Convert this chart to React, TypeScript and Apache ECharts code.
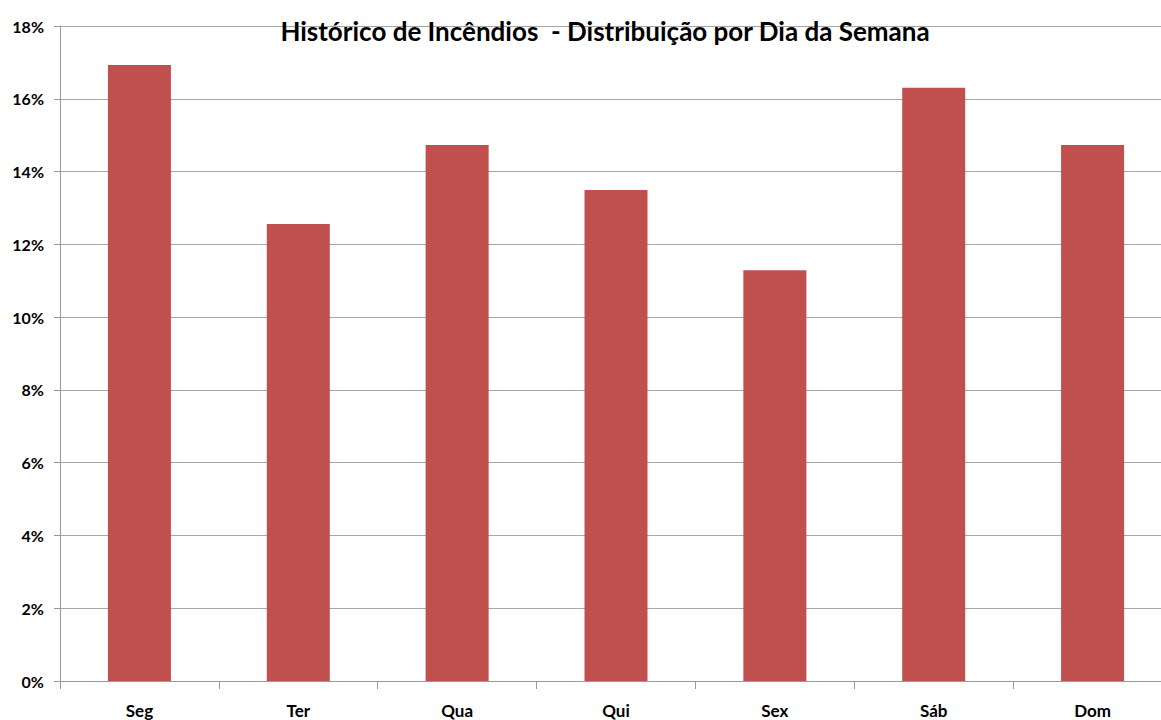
import React, { useEffect, useRef } from "react";
import * as echarts from "echarts";

const categories = ["Seg", "Ter", "Qua", "Qui", "Sex", "Sáb", "Dom"];
const values = [16.93, 12.56, 14.73, 13.49, 11.29, 16.3, 14.73];
const titleText = "Histórico de Incêndios  - Distribuição por Dia da Semana";

export default function App() {
  const ref = useRef<HTMLDivElement>(null);
  useEffect(() => {
    const chart = echarts.init(ref.current!, null, { renderer: "svg" });
    chart.setOption({
      animation: false,
      backgroundColor: "#ffffff",
      title: {
        text: titleText,
        left: 600,
        textAlign: "center",
        top: 13,
        textStyle: { fontFamily: "Lato", fontWeight: "bold", fontSize: 26, color: "#000" },
      },
      grid: { left: 60, right: 0, top: 26, bottom: 39, containLabel: false },
      xAxis: {
        type: "category",
        data: categories,
        boundaryGap: true,
        axisLine: { lineStyle: { color: "#999", width: 1 } },
        axisTick: { show: true, length: 8, lineStyle: { color: "#999" } },
        axisLabel: { fontFamily: "Lato", fontWeight: "bold", fontSize: 17, color: "#000", margin: 21 },
      },
      yAxis: {
        type: "value",
        min: 0,
        max: 18,
        interval: 2,
        axisLine: { show: true, lineStyle: { color: "#999" } },
        axisTick: { show: true, length: 6, lineStyle: { color: "#999" } },
        splitLine: { lineStyle: { color: "#a6a6a6", width: 1 } },
        axisLabel: {
          formatter: "{value}%",
          fontFamily: "Lato",
          fontWeight: "bold",
          fontSize: 16,
          color: "#000",
          margin: 16,
        },
      },
      series: [
        {
          type: "bar",
          data: values,
          barWidth: 63,
          itemStyle: { color: "#C0504D" },
        },
      ],
    });
    return () => chart.dispose();
  }, []);
  return (
    <div style={{ position: "absolute", left: 0, top: 0, width: 1161, height: 720, overflow: "hidden", background: "#fff" }}>
      <div ref={ref} style={{ position: "absolute", left: 0, top: 0, width: 1172, height: 720 }} />
    </div>
  );
}
